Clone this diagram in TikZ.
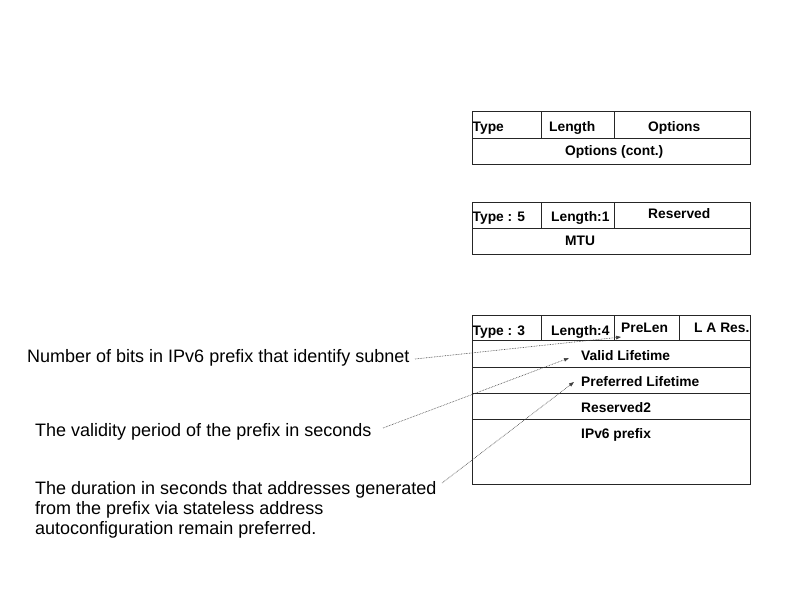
\documentclass[tikz,border=0pt]{standalone}
\usepackage{fontspec}
\setmainfont{Liberation Sans}
\usetikzlibrary{arrows.meta}
\begin{document}
\begin{tikzpicture}[x=1pt,y=-1pt,
  fieldbox/.style={draw=black!85,line width=0.9pt,inner sep=0pt,anchor=north west},
  ftext/.style={inner sep=0pt,anchor=base west,font=\fontsize{13.8}{16}\selectfont\bfseries},
  note/.style={inner sep=0pt,anchor=base west,align=left,font=\fontsize{18}{20}\selectfont},
  pointer/.style={line width=0.6pt,black!75,dash pattern=on 0.7pt off 0.9pt,-{Triangle[length=5pt,width=3.6pt]}}]
\useasboundingbox (0,0) rectangle (794,595);
% --- box 1
\node[fieldbox,minimum width=69pt,minimum height=27pt] (b1t) at (472,111) {};
\node[fieldbox,minimum width=73pt,minimum height=27pt] (b1l) at (541,111) {};
\node[fieldbox,minimum width=136pt,minimum height=27pt] (b1o) at (614,111) {};
\node[fieldbox,minimum width=278pt,minimum height=26pt] (b1c) at (472,138) {};
\node[ftext] (t1a) at (472.5,131) {Type};
\node[ftext] (t1b) at (549,131) {Length};
\node[ftext] (t1c) at (648,131) {Options};
\node[ftext] (t1d) at (565,155) {Options (cont.)};
% --- box 2
\node[fieldbox,minimum width=69pt,minimum height=26pt] (b2t) at (472,202) {};
\node[fieldbox,minimum width=73pt,minimum height=26pt] (b2l) at (541,202) {};
\node[fieldbox,minimum width=136pt,minimum height=26pt] (b2r) at (614,202) {};
\node[fieldbox,minimum width=278pt,minimum height=26pt] (b2m) at (472,228) {};
\node[ftext] (t2a) at (472.5,221) {Type : 5};
\node[ftext] (t2b) at (551,221) {Length:1};
\node[ftext] (t2c) at (648,218.5) {Reserved};
\node[ftext] (t2d) at (565,245) {MTU};
% --- box 3
\node[fieldbox,minimum width=69pt,minimum height=25pt] (b3t) at (472,315) {};
\node[fieldbox,minimum width=73pt,minimum height=25pt] (b3l) at (541,315) {};
\node[fieldbox,minimum width=65pt,minimum height=25pt] (b3p) at (614,315) {};
\node[fieldbox,minimum width=71pt,minimum height=25pt] (b3r) at (679,315) {};
\node[fieldbox,minimum width=278pt,minimum height=27pt] (b3v) at (472,340) {};
\node[fieldbox,minimum width=278pt,minimum height=26pt] (b3pl) at (472,367) {};
\node[fieldbox,minimum width=278pt,minimum height=26pt] (b3r2) at (472,393) {};
\node[fieldbox,minimum width=278pt,minimum height=65pt] (b3ip) at (472,419) {};
\node[ftext] (t3a) at (472.5,335) {Type : 3};
\node[ftext] (t3b) at (551,335) {Length:4};
\node[ftext] (t3c) at (621,332) {PreLen};
\node[ftext] (t3d) at (694,332) {L A Res.};
\node[ftext] (t3e) at (581,360) {Valid Lifetime};
\node[ftext] (t3f) at (581,386) {Preferred Lifetime};
\node[ftext] (t3g) at (581,412) {Reserved2};
\node[ftext] (t3h) at (581,438) {IPv6 prefix};
% --- notes
\node[note] (n1) at (27,362) {Number of bits in IPv6 prefix that identify subnet};
\node[note] (n2) at (35,436) {The validity period of the prefix in seconds};
\node[note] (n3) at (35,534) {The duration in seconds that addresses generated\\from the prefix via stateless address\\autoconfiguration remain preferred.};
% --- pointers
\coordinate (s1) at (415,359);
\coordinate (e1) at (621,337);
\coordinate (s2) at (383,428);
\coordinate (e2) at (569,358);
\coordinate (s3) at (442,483);
\coordinate (e3) at (574,382);
\draw[pointer] (s1) -- (e1);
\draw[pointer] (s2) -- (e2);
\draw[pointer] (s3) -- (e3);
\end{tikzpicture}
\end{document}
